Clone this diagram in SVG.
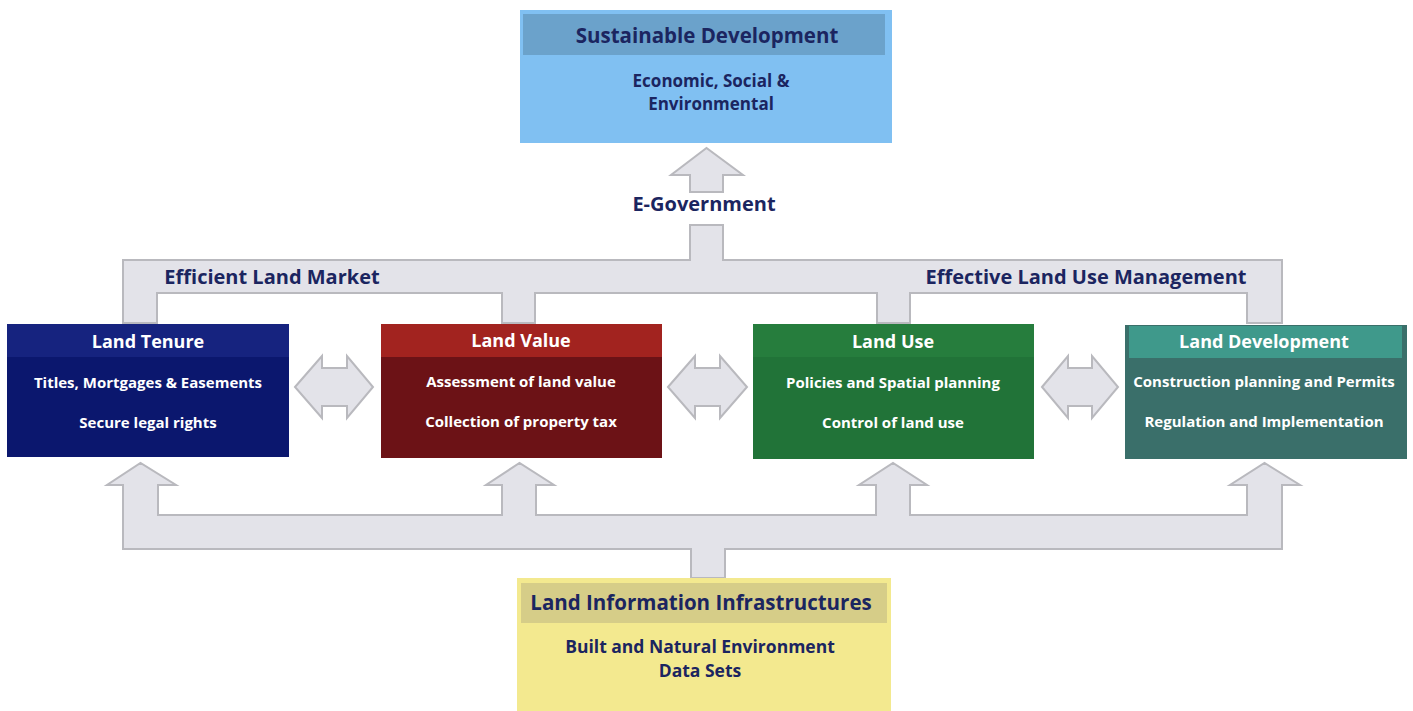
<svg xmlns="http://www.w3.org/2000/svg" width="1413" height="711" viewBox="0 0 1413 711">
<style>
.conn{fill:#e3e3e9;stroke:#b9b9be;stroke-width:2;stroke-linejoin:miter}
.t{font-family:"Open Sans","Noto Sans","Liberation Sans",sans-serif;font-weight:bold;text-anchor:middle}
.dark{fill:#1b2560}
.w{fill:#ffffff}
.h{font-size:18px}
.b{font-size:15px}
.lab{font-size:20px}
</style>
<rect width="1413" height="711" fill="#ffffff"/>
<g id="connectors">
<path class="conn" d="M123,323 V260 H690 V225 H723 V260 H1282 V323 H1247 V293 H910 V323 H877 V293 H535 V323 H502 V293 H157 V323 Z"/>
<path class="conn" d="M690,192 V175 H671 L706.5,148 L743,175 H723 V192 Z"/>
<path class="conn" d="M123,549 V485 H107 L140.5,463 L176,485 H158 V515 H502 V485 H486 L519.5,463 L554,485 H536 V515 H876 V485 H859 L893,463 L927,485 H910 V515 H1247 V485 H1230 L1264.5,463 L1300,485 H1282 V549 H725 V578 H691 V549 Z"/>
<path class="conn" d="M295,387 L322,356 V368 H347 V356 L373,387 L347,418 V406 H322 V418 Z"/>
<path class="conn" d="M668,387 L695,356 V368 H720 V356 L747,387 L720,418 V406 H695 V418 Z"/>
<path class="conn" d="M1042,387 L1068,356 V368 H1092 V356 L1118,387 L1092,418 V406 H1068 V418 Z"/>
</g>
<g id="sustainable">
<rect x="520" y="10" width="372" height="133" fill="#80c0f2"/>
<rect x="523" y="14" width="362" height="41" fill="#6ba2cb"/>
<text class="t dark" x="707" y="43" font-size="20.5">Sustainable Development</text>
<text class="t dark" x="711" y="87" font-size="17">Economic, Social &amp;</text>
<text class="t dark" x="711" y="110" font-size="17">Environmental</text>
</g>
<g id="labels">
<text class="t dark lab" x="704" y="211">E-Government</text>
<text class="t dark lab" x="272" y="284">Efficient Land Market</text>
<text class="t dark lab" x="1086" y="284">Effective Land Use Management</text>
</g>
<g id="land-tenure">
<rect x="7" y="324" width="282" height="133" fill="#0b176e"/>
<rect x="7" y="324" width="282" height="33" fill="#16237f"/>
<text class="t w h" x="148" y="348">Land Tenure</text>
<text class="t w b" x="148" y="388">Titles, Mortgages &amp; Easements</text>
<text class="t w b" x="148" y="428">Secure legal rights</text>
</g>
<g id="land-value">
<rect x="381" y="324" width="281" height="134" fill="#6c1216"/>
<rect x="381" y="324" width="281" height="33" fill="#a2231f"/>
<text class="t w h" x="521" y="347">Land Value</text>
<text class="t w b" x="521" y="387">Assessment of land value</text>
<text class="t w b" x="521" y="427">Collection of property tax</text>
</g>
<g id="land-use">
<rect x="753" y="324" width="281" height="135" fill="#217338"/>
<rect x="753" y="324" width="281" height="33" fill="#267d3d"/>
<text class="t w h" x="893" y="348">Land Use</text>
<text class="t w b" x="893" y="388">Policies and Spatial planning</text>
<text class="t w b" x="893" y="428">Control of land use</text>
</g>
<g id="land-development">
<rect x="1125" y="325" width="282" height="134" fill="#3a6f6a"/>
<rect x="1129" y="326" width="273" height="32" fill="#3f998b"/>
<text class="t w h" x="1264" y="348">Land Development</text>
<text class="t w b" x="1264" y="387">Construction planning and Permits</text>
<text class="t w b" x="1264" y="427">Regulation and Implementation</text>
</g>
<g id="land-information">
<rect x="517" y="578" width="374" height="133" fill="#f3e98f"/>
<rect x="521" y="583" width="366" height="40" fill="#d6cd88"/>
<text class="t dark" x="701" y="610" font-size="20.5">Land Information Infrastructures</text>
<text class="t dark" x="700" y="653" font-size="17.5">Built and Natural Environment</text>
<text class="t dark" x="700" y="677" font-size="17.5">Data Sets</text>
</g>
</svg>
